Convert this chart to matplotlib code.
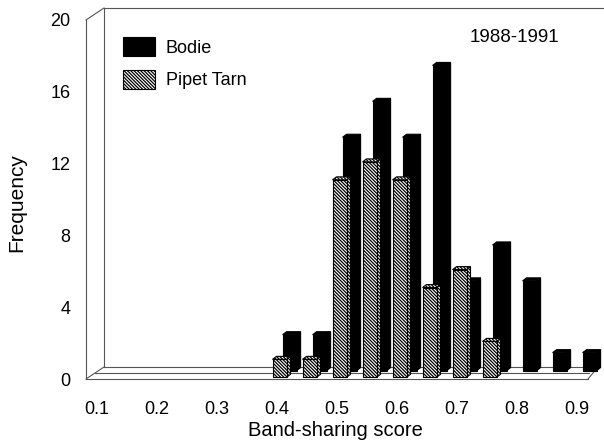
import numpy as np
import matplotlib
matplotlib.use("Agg")
import matplotlib.pyplot as plt
from matplotlib.patches import Polygon

plt.rcParams['font.family'] = ['Liberation Sans', 'DejaVu Sans']
plt.rcParams['hatch.linewidth'] = 0.9

# datos
bodie_x = [0.40, 0.45, 0.50, 0.55, 0.60, 0.65, 0.70, 0.75, 0.80, 0.85, 0.90]
bodie_y = [2, 2, 13, 15, 13, 17, 5, 7, 5, 1, 1]
pipet_x = [0.40, 0.45, 0.50, 0.55, 0.60, 0.65, 0.70, 0.75]
pipet_y = [1, 1, 11, 12, 11, 5, 6, 2]
xticks = [0.1, 0.2, 0.3, 0.4, 0.5, 0.6, 0.7, 0.8, 0.9]
yticks = [0, 4, 8, 12, 16, 20]

# escala: 600 px por unidad en x, 17.95 px por unidad en y
PX_X = 1 / 600.0
PX_Y = 1 / 17.95
DX = 18 * PX_X      # profundidad de la caja
DY = 12 * PX_Y
SX = 4 * PX_X       # profundidad de cada barra
SY = 3 * PX_Y
W = 14 * PX_X

fig = plt.figure(figsize=(6.04, 4.43), dpi=100)
ax = fig.add_axes([86 / 604, 64 / 443, 518 / 604, 379 / 443])
x0 = 0.1 - 11 * PX_X
ax.set_xlim(x0, 0.945)
ax.set_ylim(0, 379 * PX_Y)
for s in ax.spines.values():
    s.set_visible(False)

# caja 3D
lc = dict(color='#555555', lw=0.8, clip_on=False, zorder=1)
xr_front = 0.1 + 491 * PX_X
xr_back = 0.1 + 501 * PX_X
ax.plot([x0, x0], [0, 20], **lc)
ax.plot([x0 + DX, x0 + DX], [DY, 20 + DY], **lc)
ax.plot([x0, x0 + DX], [20, 20 + DY], **lc)
ax.plot([x0 + DX, 0.945], [20 + DY, 20 + DY], **lc)
ax.plot([x0, x0 + DX], [0, DY], **lc)
ax.plot([x0 + DX, xr_back], [DY, DY], **lc)
ax.plot([x0 + DX / 2, xr_back - DX / 2], [DY / 2, DY / 2], **lc)
ax.plot([x0, xr_front], [0, 0], **lc)
ax.plot([xr_front, xr_back], [0, DY], **lc)


def bars3d(xs, ys, d, face, hatch, z, label):
    ox, oy = d * DX, d * DY
    cont = ax.bar(np.array(xs) + ox, ys, width=W, bottom=oy, color=face,
                  edgecolor='black', linewidth=0.8, hatch=hatch, zorder=z,
                  label=label, clip_on=False)
    for x, h in zip(xs, ys):
        xl, xr = x + ox - W / 2, x + ox + W / 2
        top = oy + h
        side = Polygon([(xr, oy), (xr, top), (xr + SX, top + SY), (xr + SX, oy + SY)],
                       closed=True, facecolor=face, edgecolor='black', lw=0.8,
                       hatch=hatch, zorder=z - 0.1, clip_on=False)
        cap = Polygon([(xl, top), (xr, top), (xr + SX, top + SY), (xl + SX, top + SY)],
                      closed=True, facecolor=face, edgecolor='black', lw=0.8,
                      hatch=hatch, zorder=z - 0.1, clip_on=False)
        ax.add_patch(side)
        ax.add_patch(cap)
    return cont


b1 = bars3d(bodie_x, bodie_y, 0.7, 'black', None, 3, 'Bodie')
b2 = bars3d(pipet_x, pipet_y, 0.14, 'white', '\\' * 10, 5, 'Pipet Tarn')

ax.set_xticks(xticks)
ax.set_xticklabels([f'{v:.1f}' for v in xticks])
ax.set_yticks(yticks)
ax.tick_params(axis='both', length=0, labelsize=13)
ax.tick_params(axis='x', pad=16)
ax.tick_params(axis='y', pad=11)

ax.set_xlabel('Band-sharing score', fontsize=14.5)
ax.xaxis.set_label_coords((335 - 86) / 518, -(421 - 379) / 379)
ax.set_ylabel('Frequency', fontsize=15)
ax.yaxis.set_label_coords((26 - 86) / 518, (379 - 203) / 379)

ax.legend(handles=[b1, b2], loc='upper left', bbox_to_anchor=(30 / 518, 1 - 30 / 379),
          frameon=False, fontsize=13, handlelength=1.75, handleheight=1.2,
          labelspacing=0.75, handletextpad=0.6, borderaxespad=0)

fig.text(470 / 604, 1 - 38 / 443, '1988-1991', fontsize=13.5, va='center')

fig.savefig('out.png', dpi=100)
